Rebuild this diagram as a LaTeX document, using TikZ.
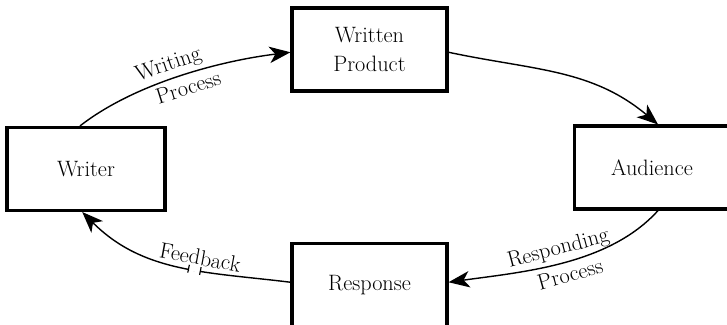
\documentclass[tikz,border=0pt]{standalone}
\usepackage{fontspec}
\usetikzlibrary{arrows.meta,decorations.markings}
\begin{document}
\begin{tikzpicture}[x=0.03cm,y=0.03cm,
		box/.style={draw,line width=2.6pt,minimum width=4.65cm,minimum height=2.49cm,align=center,font=\fontsize{19}{25}\selectfont},
		flow/.style={line width=1.2pt,-{Stealth[length=18pt,width=14pt,inset=5pt]}},
		lbl/.style={font=\fontsize{19}{22}\selectfont,sloped,inner sep=1pt}]
	\useasboundingbox (0,0) rectangle (727,324);
	\clip (0,0) rectangle (727,324);

	\node[box,minimum width=4.74cm] (writer) at (86,155) {Writer};
	\node[box] (product) at (369.5,274.5) {Written\\Product};
	\node[box] (audience) at (652,156.5) {Audience};
	\node[box] (response) at (369.5,39) {Response};

	\draw[flow] (writer.98) to[out=38,in=187,looseness=0.8]
		node[lbl,above=2pt,pos=0.47] {Writing}
		node[lbl,below=3pt,pos=0.52] {Process} (product.182);
	\draw[flow] (product.-2) to[out=-12,in=140] (audience.82);
	\draw[flow] (audience.-82) to[out=-132,in=8,looseness=0.85]
		node[lbl,above=2pt,pos=0.5] {Responding}
		node[lbl,below=3pt,pos=0.48] {Process} (response.2);
	\draw[flow,postaction={decorate},decoration={markings,mark=at position 0.43 with {
			\fill[white] (-0.18cm,-1.5pt) rectangle (0.18cm,1.5pt);
			\draw[arrows=-,line width=1pt] (-0.18cm,-0.12cm) -- (-0.18cm,0.12cm);
			\draw[arrows=-,line width=1pt] (0.18cm,-0.12cm) -- (0.18cm,0.12cm);}}]
		(response.178) to[out=173,in=-45]
		node[lbl,above=3pt,pos=0.4] {Feedback} (writer.-95);
\end{tikzpicture}
\end{document}
